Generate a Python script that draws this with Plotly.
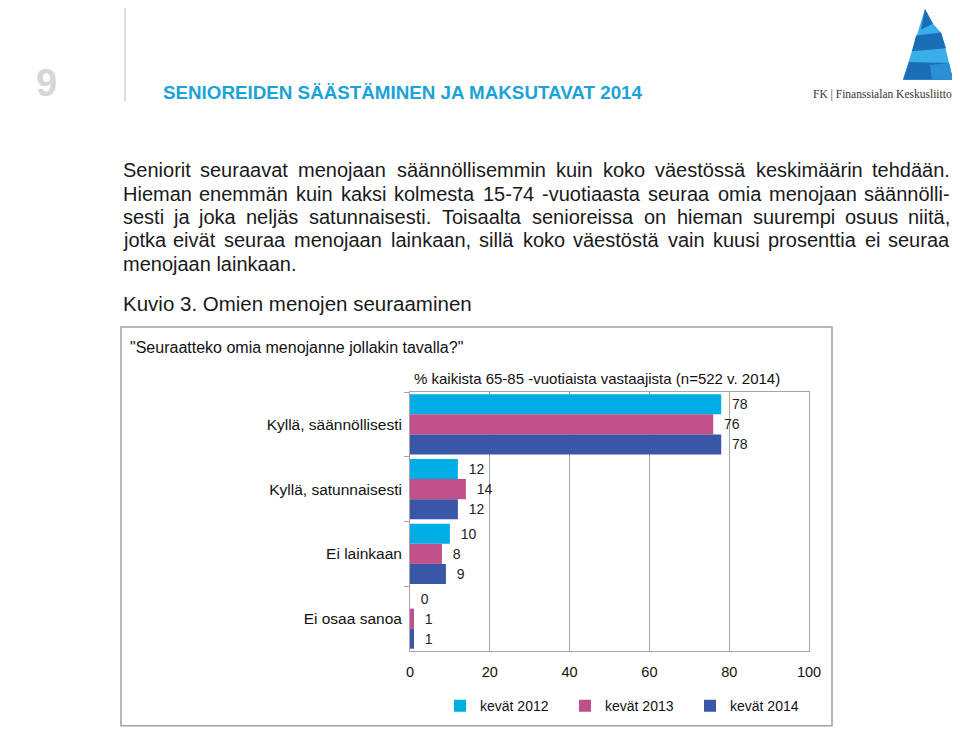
import plotly.graph_objects as go

# ---------------- data ----------------
categories = ["Kyllä, säännöllisesti", "Kyllä, satunnaisesti", "Ei lainkaan", "Ei osaa sanoa"]
series_names = ["kevät 2012", "kevät 2013", "kevät 2014"]
values_2012 = [78, 12, 10, 0]
values_2013 = [76, 14, 8, 1]
values_2014 = [78, 12, 9, 1]
x_ticks = [0, 20, 40, 60, 80, 100]

header_number = "9"
header_title = "SENIOREIDEN SÄÄSTÄMINEN JA MAKSUTAVAT 2014"
logo_text = "FK | Finanssialan Keskusliitto"
body_lines = [
    "Seniorit seuraavat menojaan säännöllisemmin kuin koko väestössä keskimäärin tehdään.",
    "Hieman enemmän kuin kaksi kolmesta 15-74 -vuotiaasta seuraa omia menojaan säännölli-",
    "sesti ja joka neljäs satunnaisesti. Toisaalta senioreissa on hieman suurempi osuus niitä,",
    "jotka eivät seuraa menojaan lainkaan, sillä koko väestöstä vain kuusi prosenttia ei seuraa",
    "menojaan lainkaan.",
]
figure_title = "Kuvio 3. Omien menojen seuraaminen"
question = "\"Seuraatteko omia menojanne jollakin tavalla?\""
subtitle = "% kaikista 65-85 -vuotiaista vastaajista (n=522 v. 2014)"

colors = ["#00AEE6", "#C0508A", "#3A56A6"]

# ---------------- layout helpers (screen pixel -> paper) ----------------
OFF = 8                      # page body margin offset of the figure
W, H = 960 - OFF, 734 - OFF
L, R, T, B = 410, 809, 392, 655   # plot area in screen pixels


def px(x):
    return (x - L) / (R - L)


def py(y):
    return (B - y) / (B - T)


FONT = "Liberation Sans, Arial, sans-serif"

fig = go.Figure()
for name, vals, col in zip(series_names, [values_2012, values_2013, values_2014], colors):
    fig.add_trace(go.Bar(
        y=categories, x=vals, name=name, orientation="h",
        marker=dict(color=col, line=dict(width=0)),
        text=[f"  {v}" for v in vals], textposition="outside",
        textfont=dict(family=FONT, size=14, color="#222222"),
        cliponaxis=False,
    ))

annotations = []
shapes = []


def note(text, x, y, size, color="#1A1A1A", xanchor="left", family=FONT):
    annotations.append(dict(text=text, x=px(x), y=py(y), xref="paper", yref="paper",
                            showarrow=False, xanchor=xanchor, yanchor="middle", borderpad=0,
                            font=dict(family=family, size=size, color=color)))


# header
note(f"<b>{header_number}</b>", 46, 78, 38, color="#D6D6D6", xanchor="center")
note(f"<b>{header_title}</b>", 162, 88, 18.8, color="#1AA3D6")
note(logo_text, 953, 90, 11.5, color="#333333", xanchor="right", family="Liberation Serif, serif")
shapes.append(dict(type="line", xref="paper", yref="paper", x0=px(125), x1=px(125), y0=py(0), y1=py(97),
                   line=dict(color="#D0D0D0", width=1.5)))


# logo (stylised stepped triangle)
def path(points):
    return "M " + " L ".join(f"{px(a)},{py(b)}" for a, b in points) + " Z"


for pts, col in [
    ([(925, 3), (933, 18), (941, 27), (946, 45), (949, 58), (953, 75), (903, 75)], "#3AAEE6"),
    ([(925, 3), (933, 18), (921, 24)], "#1B6DB6"),
    ([(916, 30), (941, 27), (946, 43), (912, 46)], "#1B6DB6"),
    ([(909, 57), (949, 58), (953, 75), (903, 75)], "#1B6DB6"),
    ([(930, 60), (949, 58), (953, 75), (932, 75)], "#2A8FD4"),
]:
    shapes.append(dict(type="path", xref="paper", yref="paper", path=path(pts),
                       fillcolor=col, line=dict(width=0)))

# body text (justified lines emulated with Arial/Liberation Sans metrics)
ARIAL = {" ": 278, "a": 556, "b": 556, "c": 500, "d": 556, "e": 556, "f": 278, "g": 556, "h": 556,
         "i": 222, "j": 222, "k": 500, "l": 222, "m": 833, "n": 556, "o": 556, "p": 556, "q": 556,
         "r": 333, "s": 500, "t": 278, "u": 556, "v": 500, "w": 722, "x": 500, "y": 500, "z": 500,
         "ä": 556, "ö": 556, "H": 722, "K": 667, "S": 667, "T": 611, "O": 778,
         "-": 333, ",": 278, ".": 278}


def text_width(s, size):
    return sum(ARIAL.get(c, 556) for c in s) * size / 1000.0


BODY_SIZE = 20
LEFT_X, RIGHT_X = 122, 951
for i, line in enumerate(body_lines):
    y = 167 + i * 23.7
    words = line.split(" ")
    if i == len(body_lines) - 1 or len(words) < 2:
        note(line, LEFT_X, y, BODY_SIZE)
        continue
    widths = [text_width(w, BODY_SIZE) for w in words]
    gap = (RIGHT_X - LEFT_X - sum(widths)) / (len(words) - 1)
    x = LEFT_X
    for k, (w, wd) in enumerate(zip(words, widths)):
        if k == 0:
            note(w, x, y, BODY_SIZE, xanchor="left")
        elif k == len(words) - 1:
            note(w, RIGHT_X, y, BODY_SIZE, xanchor="right")
        else:
            note(w, x + wd / 2, y, BODY_SIZE, xanchor="center")
        x += wd + gap

note(figure_title, 122, 302, 20.5)

# chart box
shapes.append(dict(type="rect", xref="paper", yref="paper", x0=px(121), x1=px(832), y0=py(326), y1=py(731),
                   line=dict(color="#A0A0A0", width=1.5), fillcolor="rgba(0,0,0,0)", layer="below"))
note(question, 129, 347, 16, color="#111111")
note(subtitle, 413, 378, 15, color="#111111")

fig.update_layout(
    width=W, height=H,
    margin=dict(l=L - OFF, r=W - (R - OFF), t=T - OFF, b=H - (B - OFF), pad=0),
    paper_bgcolor="white", plot_bgcolor="white",
    barmode="group", bargap=0.07, bargroupgap=0,
    showlegend=True,
    legend=dict(orientation="h", x=px(440), y=py(711), xanchor="left", yanchor="middle",
                font=dict(family=FONT, size=14, color="#111111"),
                entrywidth=80, entrywidthmode="pixels", itemclick=False, itemwidth=30,
                traceorder="normal", bgcolor="rgba(0,0,0,0)"),
    xaxis=dict(range=[0, 100], tickvals=x_ticks, ticktext=[str(t) for t in x_ticks],
               showgrid=True, gridcolor="#A6A6A6", gridwidth=1, zeroline=False,
               showline=True, linecolor="#A6A6A6", linewidth=1, mirror=True,
               ticks="", tickfont=dict(family=FONT, size=14.5, color="#111111"), ticklabelstandoff=8),
    yaxis=dict(autorange="reversed", showgrid=False, zeroline=False,
               showline=True, linecolor="#A6A6A6", linewidth=1, mirror=True,
               ticks="outside", ticklen=5, tickcolor="#A6A6A6", tickson="boundaries",
               tickfont=dict(family=FONT, size=15.5, color="#111111"), ticklabelstandoff=4),
    annotations=annotations, shapes=shapes,
    font=dict(family=FONT),
)

fig.write_html("out.html")
